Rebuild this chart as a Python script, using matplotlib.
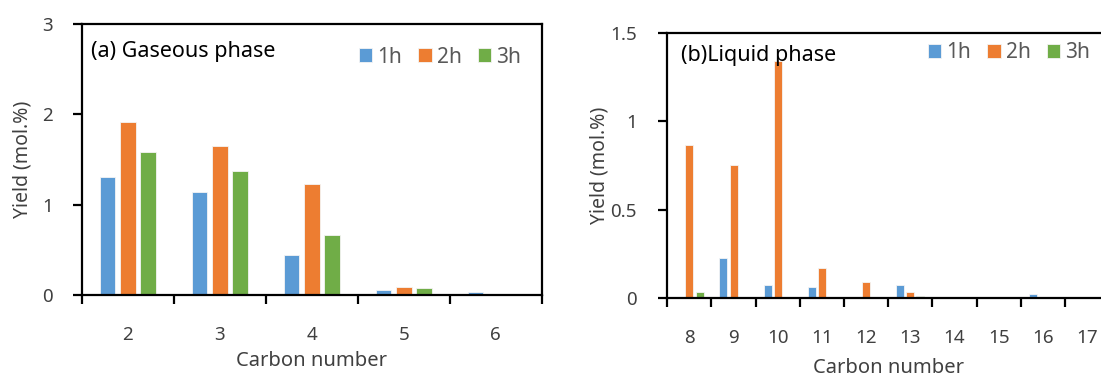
import numpy as np
import matplotlib
matplotlib.use("Agg")
import matplotlib.pyplot as plt

plt.rcParams['font.family'] = ['Noto Sans', 'DejaVu Sans']

# gaseous products, C2-C6
gas_carbon = [2, 3, 4, 5, 6]
gas_1h = [1.31, 1.14, 0.44, 0.052, 0.03]
gas_2h = [1.92, 1.65, 1.225, 0.089, 0.0]
gas_3h = [1.58, 1.37, 0.66, 0.077, 0.0]

# liquid products, C8-C17
liq_carbon = [8, 9, 10, 11, 12, 13, 14, 15, 16, 17]
liq_1h = [0.0, 0.228, 0.077, 0.064, 0.0, 0.074, 0.002, 0.0, 0.024, 0.0]
liq_2h = [0.868, 0.754, 1.338, 0.172, 0.092, 0.038, 0.0, 0.0, 0.0, 0.0]
liq_3h = [0.034, 0.0, 0.0, 0.003, 0.002, 0.014, 0.0, 0.0, 0.0, 0.0]

series_names = ['1h', '2h', '3h']
colors = ['#5B9BD5', '#ED7D31', '#70AD47']
TICK_C = '#404040'


def draw_panel(ax, cats, series, ymax, ystep, title, title_xy, leg_xy,
               ylab_x, xlab_y, ypad, width, gap):
    x = np.arange(len(cats))
    for i, (vals, c, name) in enumerate(zip(series, colors, series_names)):
        ax.bar(x + (i - 1) * gap, vals, width, color=c, edgecolor='#f4f4f4',
               linewidth=0.6, label=name, zorder=2)

    ax.set_xlim(-0.5, len(cats) - 0.5)
    ax.set_ylim(0, ymax)
    yt = np.arange(0, ymax + 1e-9, ystep)
    ax.set_yticks(yt)
    ax.set_yticklabels([f'{v:g}' for v in yt])
    ax.set_xticks(x)
    ax.set_xticklabels([str(c) for c in cats])
    ax.set_xticks(np.arange(-0.5, len(cats)), minor=True)

    for s in ax.spines.values():
        s.set_linewidth(1.6)
        s.set_color('black')
    ax.tick_params(axis='x', which='major', length=0, pad=22, labelsize=13.5, labelcolor=TICK_C)
    ax.tick_params(axis='x', which='minor', length=6.5, width=1.6, direction='out')
    ax.tick_params(axis='y', length=6.5, width=1.6, direction='out', pad=ypad,
                   labelsize=13.5, labelcolor=TICK_C)

    ax.set_xlabel('Carbon number', fontsize=14.5, color=TICK_C)
    ax.set_ylabel('Yield (mol.%)', fontsize=14, color=TICK_C)
    ax.xaxis.set_label_coords(0.5, xlab_y)
    ax.yaxis.set_label_coords(ylab_x, 0.5)

    ax.text(title_xy[0], title_xy[1], title, transform=ax.transAxes, fontsize=15.5,
            ha='left', va='center', color='black', zorder=5)
    leg = ax.legend(loc='center right', bbox_to_anchor=leg_xy, ncol=3, frameon=False,
                    fontsize=15, handlelength=0.64, handleheight=0.64,
                    handletextpad=0.24, columnspacing=0.77, borderpad=0, borderaxespad=0)
    for t in leg.get_texts():
        t.set_color('#595959')


fig = plt.figure(figsize=(11.01, 3.76), dpi=100)
ax1 = fig.add_axes([0.0742, 0.2154, 0.4178, 0.7207])
ax2 = fig.add_axes([0.6061, 0.2066, 0.4012, 0.7064])

draw_panel(ax1, gas_carbon, [gas_1h, gas_2h, gas_3h], 3, 1,
           '(a) Gaseous phase', (0.02, 0.897), (0.955, 0.878), -0.108, -0.205,
           14, 0.17, 0.22)
draw_panel(ax2, liq_carbon, [liq_1h, liq_2h, liq_3h], 1.5, 0.5,
           '(b)Liquid phase', (0.03, 0.916), (0.957, 0.924), -0.130, -0.225,
           15.5, 0.18, 0.23)

fig.savefig('out.png', dpi=100)
